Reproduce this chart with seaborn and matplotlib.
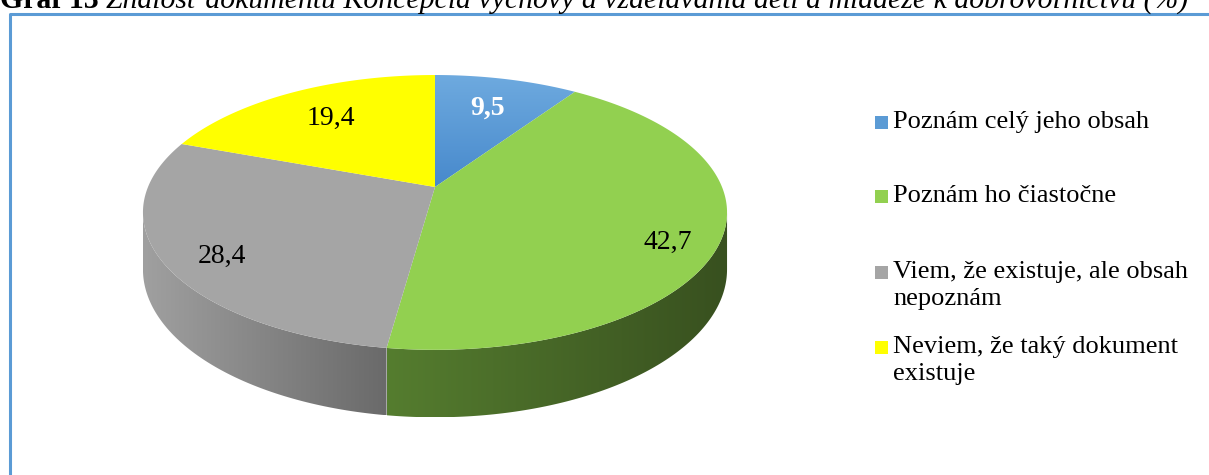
import numpy as np
import matplotlib
matplotlib.use("Agg")
import matplotlib.pyplot as plt
import seaborn as sns
from matplotlib.patches import Polygon, Rectangle
from matplotlib.colors import LinearSegmentedColormap

# data
categories = ["Poznám celý jeho obsah", "Poznám ho čiastočne",
              "Viem, že existuje, ale obsah\nnepoznám",
              "Neviem, že taký dokument\nexistuje"]
values = [9.5, 42.7, 28.4, 19.4]
value_labels = ["9,5", "42,7", "28,4", "19,4"]
title_bold = "Graf 13"
title_rest = "Znalosť dokumentu Koncepcia výchovy a vzdelávania detí a mládeže k dobrovoľníctvu (%)"

sns.set_style("white")
plt.rcParams["font.family"] = ["Liberation Serif", "DejaVu Serif"]
plt.rcParams["text.color"] = "black"

top_colors = sns.color_palette(["#5b9bd5", "#92d050", "#a5a5a5", "#ffff00"])
side_colors = [("#3f78b0", "#2d5a88"), ("#557d2f", "#38501f"),
               ("#a0a0a0", "#6a6a6a"), ("#cccc00", "#999900")]

# pixel layout of the 3d pie
cx, cy = 435, 187
RX, RY = 287, 132.7
k = 0.185
depth = 55


def proj(t, r=1.0):
    u = r * np.sin(t)
    v = -r * np.cos(t)
    s = 1.0 / (1 - k * v)
    return cx + RX * u * s, cy + RY * v * s, s


fig = plt.figure(figsize=(12.09, 4.75), dpi=100)
ax = fig.add_axes([0, 0, 1, 1])
ax.set_xlim(0, 1209)
ax.set_ylim(475, 0)
ax.axis("off")

frac = np.array(values) / np.sum(values)
edges = np.concatenate([[0], np.cumsum(frac)]) * 2 * np.pi
t_left, t_right = 2 * np.pi - np.arccos(-k), np.arccos(-k)  # silhouette

# sides (front part only)
for i in range(len(values)):
    a0, a1 = edges[i], edges[i + 1]
    lo, hi = max(a0, t_right), min(a1, t_left)
    if hi <= lo:
        continue
    ts = np.linspace(lo, hi, 120)
    x, y, s = proj(ts)
    xs = np.concatenate([x, x[::-1]])
    ys = np.concatenate([y, (y + depth * s)[::-1]])
    poly = Polygon(np.column_stack([xs, ys]), closed=True, facecolor="none", edgecolor="none")
    ax.add_patch(poly)
    cmap = LinearSegmentedColormap.from_list("side%d" % i, list(side_colors[i]))
    grad = np.linspace(0, 1, 256).reshape(1, -1)
    im = ax.imshow(grad, cmap=cmap, aspect="auto",
                   extent=[xs.min(), xs.max(), ys.max(), ys.min()], zorder=1)
    im.set_clip_path(poly)

# top faces
for i in range(len(values)):
    ts = np.linspace(edges[i], edges[i + 1], 200)
    x, y, _ = proj(ts)
    pts = np.vstack([[cx, cy], np.column_stack([x, y])])
    if i == 0:
        poly = Polygon(pts, closed=True, facecolor="none", edgecolor="none", zorder=2)
        ax.add_patch(poly)
        cmap = LinearSegmentedColormap.from_list("blue", ["#6eaadf", "#4789cc"])
        grad = np.linspace(0, 1, 256).reshape(-1, 1)
        im = ax.imshow(grad, cmap=cmap, aspect="auto",
                       extent=[pts[:, 0].min(), pts[:, 0].max(), pts[:, 1].max(), pts[:, 1].min()],
                       zorder=2)
        im.set_clip_path(poly)
    else:
        ax.add_patch(Polygon(pts, closed=True, facecolor=top_colors[i],
                             edgecolor="none", zorder=2))

# value labels
label_r = [0.7, 0.82, 0.8, 0.7]
label_dy = [0, 14, 10, 0]
for i, lab in enumerate(value_labels):
    tm = (edges[i] + edges[i + 1]) / 2
    lx, ly, _ = proj(tm, label_r[i])
    ax.text(lx, ly + label_dy[i], lab, ha="center", va="center", fontsize=20,
            color="white" if i == 0 else "black",
            fontweight="bold" if i == 0 else "normal", zorder=5)

# legend
leg_y = [122, 196, 272, 347]
for i, lab in enumerate(categories):
    ax.add_patch(Rectangle((875, leg_y[i] - 6.5), 13, 13, facecolor=top_colors[i],
                           edgecolor="none"))
    ax.text(893, leg_y[i] - 11, lab, ha="left", va="top", fontsize=19,
            linespacing=1.3, color="black")

# frame
ax.plot([10, 10, 1209], [475, 14, 14], color="#5b9bd5", lw=2.2, solid_capstyle="butt")

# title, cut at the top like the source
t1 = ax.text(0, 8, title_bold + " ", fontsize=21.4, fontweight="bold", va="baseline",
             color="black")
fig.canvas.draw()
bb = t1.get_window_extent()
ax.text(bb.x1, 8, title_rest, fontsize=21.4, fontstyle="italic", va="baseline",
        color="black")

fig.savefig("out.png", dpi=100)
